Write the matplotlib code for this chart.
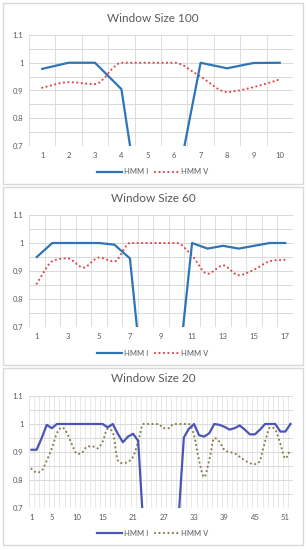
import matplotlib
matplotlib.use("Agg")
import matplotlib.pyplot as plt
from matplotlib.path import Path
from matplotlib.patches import PathPatch, Rectangle
from matplotlib.lines import Line2D
import numpy as np

# ---------------- data ----------------
titles = ["Window Size 100", "Window Size 60", "Window Size 20"]
series_names = ["HMM I", "HMM V"]

# Window size 100
x100 = list(range(1, 11))
hmm_i_100 = [0.978, 1.0, 1.0, 0.905, 0.28, 0.51, 1.0, 0.98, 0.999, 1.0]
hmm_v_100 = [0.91, 0.93, 0.923, 1.0, 1.0, 1.0, 0.95, 0.895, 0.912, 0.94]
ticks100 = [1, 2, 3, 4, 5, 6, 7, 8, 9, 10]

# Window size 60
x60 = list(range(1, 18))
hmm_i_60 = [0.95, 1.0, 1.0, 1.0, 1.0, 0.994, 0.945, 0.40, 0.40, 0.48,
            1.0, 0.98, 0.99, 0.98, 0.99, 1.0, 1.0]
hmm_v_60 = [0.855, 0.935, 0.945, 0.912, 0.948, 0.934, 1.0, 1.0, 1.0, 1.0,
            0.955, 0.89, 0.92, 0.885, 0.905, 0.935, 0.94]
ticks60 = [1, 3, 5, 7, 9, 11, 13, 15, 17]

# Window size 20
x20 = list(range(1, 53))
hmm_i_20 = [0.908, 0.908, 0.95, 0.997, 0.985, 1.0, 1.0, 1.0, 1.0, 1.0,
            1.0, 1.0, 1.0, 1.0, 1.0, 0.988, 1.0, 0.965, 0.935, 0.955,
            0.965, 0.94, 0.64, 0.5, 0.5, 0.5, 0.5, 0.5, 0.5, 0.675,
            0.952, 0.983, 1.0, 0.96, 0.955, 0.967, 1.0, 0.997, 0.99, 0.98,
            0.985, 0.995, 0.98, 0.963, 0.963, 0.98, 1.0, 1.0, 1.0, 0.973,
            0.973, 1.0]
hmm_v_20 = [0.84, 0.827, 0.833, 0.87, 0.913, 0.967, 0.988, 0.967, 0.925, 0.893,
            0.898, 0.92, 0.92, 0.913, 0.937, 0.983, 0.97, 0.87, 0.86, 0.865,
            0.883, 0.937, 1.0, 1.0, 1.0, 1.0, 0.985, 0.985, 1.0, 1.0,
            1.0, 1.0, 0.96, 0.87, 0.81, 0.87, 0.95, 0.937, 0.907, 0.9,
            0.895, 0.883, 0.87, 0.86, 0.857, 0.87, 0.937, 0.988, 0.98, 0.93,
            0.877, 0.91]
ticks20 = [1, 5, 10, 15, 21, 27, 33, 39, 45, 51]

panels = [
    (x100, hmm_i_100, hmm_v_100, ticks100),
    (x60, hmm_i_60, hmm_v_60, ticks60),
    (x20, hmm_i_20, hmm_v_20, ticks20),
]
colors_i = ["#2E75B6", "#2E75B6", "#4A55B5"]
colors_v = ["#E0474C", "#E0474C", "#8C7B4F"]

# ---------------- layout (pixels) ----------------
W, H = 306, 550
plt.rcParams['font.family'] = ['Lato', 'DejaVu Sans']
fig = plt.figure(figsize=(W / 100, H / 100), dpi=100)

boxes = [(3, 3, 184), (3, 187, 365), (3, 368, 545)]          # x0, ytop, ybottom
plots = [(29, 35, 146), (29, 215, 327), (29, 396, 508)]      # left, top, bottom
plot_right = 293
title_y = [19, 199, 379]
legend_y = [172, 353, 533]

GRID = "#D9D9D9"
TXT = "#595959"


def smooth_path(xs, ys):
    """Smoothed rendering of the series (cubic Bezier, no overshoot at extrema)."""
    xs = np.asarray(xs, float)
    ys = np.asarray(ys, float)
    n = len(xs)
    m = np.zeros(n)
    for i in range(n):
        a = max(i - 1, 0)
        b = min(i + 1, n - 1)
        if 0 < i < n - 1 and (ys[i] - ys[a]) * (ys[b] - ys[i]) <= 0:
            m[i] = 0.0
        else:
            m[i] = (ys[b] - ys[a]) / (xs[b] - xs[a])
            if 0 < i < n - 1:
                lim = 3 * min(abs(ys[i] - ys[a]) / (xs[i] - xs[a]),
                              abs(ys[b] - ys[i]) / (xs[b] - xs[i]))
                m[i] = np.sign(m[i]) * min(abs(m[i]), lim)
    verts = [(xs[0], ys[0])]
    codes = [Path.MOVETO]
    for i in range(n - 1):
        h = xs[i + 1] - xs[i]
        c1 = (xs[i] + h / 3, ys[i] + m[i] * h / 3)
        c2 = (xs[i + 1] - h / 3, ys[i + 1] - m[i + 1] * h / 3)
        verts += [c1, c2, (xs[i + 1], ys[i + 1])]
        codes += [Path.CURVE4] * 3
    return Path(verts, codes)


dot_style = (0, (0.01, 2.0))

for k, (xs, yi, yv, ticks) in enumerate(panels):
    bx, btop, bbot = boxes[k]
    fig.add_artist(Rectangle((bx / W, 1 - bbot / H), (W - 2 * bx) / W, (bbot - btop) / H,
                             transform=fig.transFigure, fill=False,
                             edgecolor=GRID, linewidth=1.0))
    left, top, bot = plots[k]
    ax = fig.add_axes([left / W, 1 - bot / H, (plot_right - left) / W, (bot - top) / H])
    n = len(xs)
    ax.set_xlim(0.5, n + 0.5)
    ax.set_ylim(0.7, 1.1)
    for s in ax.spines.values():
        s.set_visible(False)
    gcol = GRID if n < 30 else "#E4E4E4"
    for gx in np.arange(0.5, n + 1.0, 1.0):
        ax.axvline(gx, color=gcol, lw=0.6, zorder=0)
    for gy in np.arange(0.7, 1.1001, 0.05):
        ax.axhline(gy, color=GRID, lw=0.7, zorder=0)
    ax.set_xticks(ticks)
    ax.set_xticklabels([str(t) for t in ticks])
    ax.set_yticks([0.7, 0.8, 0.9, 1.0, 1.1])
    ax.set_yticklabels(["0.7", "0.8", "0.9", "1", "1.1"])
    ax.tick_params(length=0, labelsize=5.5, colors=TXT, pad=4)

    ax.plot(xs, yi, color=colors_i[k], lw=1.6, solid_joinstyle='round', zorder=3)
    patch = PathPatch(smooth_path(xs, yv), fill=False, edgecolor=colors_v[k],
                      lw=1.6, linestyle=dot_style, capstyle='round', zorder=2)
    ax.add_patch(patch)

    fig.text(0.5, 1 - title_y[k] / H, titles[k], ha='center', va='center',
             fontsize=8.5, color=TXT)

    h1 = Line2D([], [], color=colors_i[k], lw=1.6)
    h2 = Line2D([], [], color=colors_v[k], lw=1.6, linestyle=dot_style,
                dash_capstyle='round')
    fig.legend([h1, h2], series_names, loc='center',
               bbox_to_anchor=(0.5, 1 - legend_y[k] / H), ncol=2, frameon=False,
               fontsize=5.5, labelcolor=TXT, handlelength=3.2, handletextpad=0.3,
               columnspacing=0.8, borderpad=0)

fig.savefig("out.png", dpi=100)
